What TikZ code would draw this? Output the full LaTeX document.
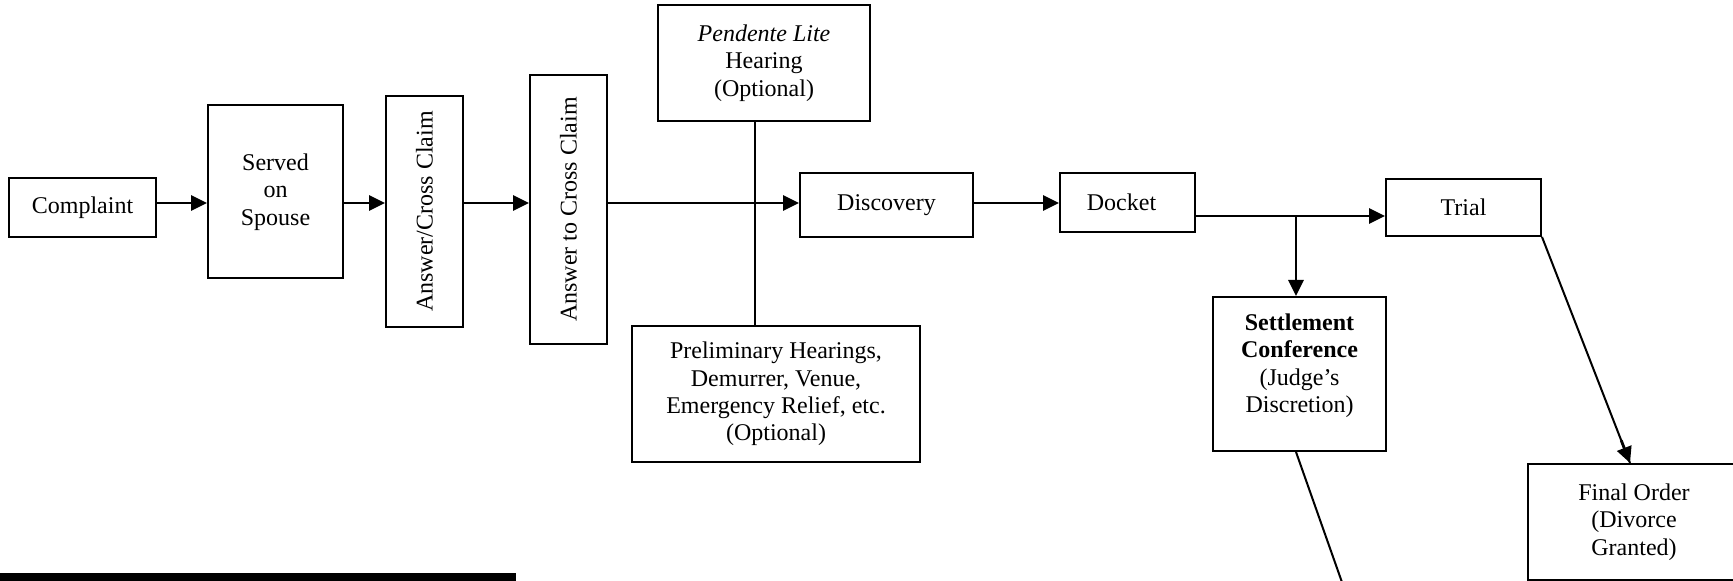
\documentclass[tikz,border=0pt]{standalone}
\usepackage{fontspec}
\setmainfont{Liberation Serif}
\usepackage{tikz}
\usetikzlibrary{arrows.meta,calc,positioning}

\begin{document}
\begin{tikzpicture}[x=0.5pt,y=-0.5pt,font=\fontsize{12}{13.7}\selectfont,
  box/.style={draw,line width=1pt,inner sep=2pt,align=center},
  arr/.style={line width=1.4pt,-{Triangle[length=8pt,width=7.5pt]}},
  link/.style={line width=1pt}]
\useasboundingbox (0,0) rectangle (1733,581);
% filing, in one row
\node[box,minimum width=73.5pt,minimum height=29.5pt] (complaint) at (82.5,207.5) {Complaint};
\node[box,minimum width=67.5pt,minimum height=86.5pt] (served) at (275.5,192) {Served\\on\\Spouse};
\node[box,rotate=90,minimum width=115.5pt,minimum height=38.5pt] (answer) at (424.5,211.5) {Answer/Cross Claim};
\node[box,rotate=90,minimum width=134.5pt,minimum height=38.5pt] (reply) at (568.5,209.5) {Answer to Cross Claim};
% optional hearings
\node[box,minimum width=106pt,minimum height=58pt] (pendente) at (764,63) {\textit{Pendente Lite}\\Hearing\\(Optional)};
\node[box,minimum width=144pt,minimum height=68pt] (prelim) at (776,394) {Preliminary Hearings,\\Demurrer, Venue,\\Emergency Relief, etc.\\(Optional)};
% towards trial
\node[box,minimum width=86.5pt,minimum height=32pt] (discovery) at (886.5,205) {Discovery};
\node[box,minimum width=67.5pt,minimum height=29.5pt] (docket) at (1127.5,202.5) {Docket\hspace*{6pt}};
\node[box,minimum width=77.5pt,minimum height=28.5pt] (trial) at (1463.5,207.5) {Trial};
\node[box,minimum width=86.5pt,minimum height=77pt] (settle) at (1299.5,374) {\textbf{Settlement}\\\textbf{Conference}\\(Judge’s\\Discretion)\\[-7pt]\strut};
\node[box,minimum width=106pt,minimum height=58pt] (final) at (1634,522) {Final Order\\(Divorce\\Granted)};

\coordinate (row) at (0,203);
\coordinate (row2) at (0,216);
\coordinate (vline) at (755,0);
\coordinate (fork) at (1296,216);
\coordinate (offpage) at (1350,605);

\draw[arr] (complaint.east |- row) -- (served.west |- row);
\draw[arr] (served.east |- row) -- (answer.north |- row);
\draw[arr] (answer.south |- row) -- (reply.north |- row);
\draw[arr] (reply.south |- row) -- (discovery.west |- row);
\draw[arr] (discovery.east |- row) -- (docket.west |- row);
\draw[link] (pendente.south -| vline) -- (prelim.north -| vline);
\draw[arr] (docket.east |- row2) -- (trial.west |- row2);
\draw[arr] (fork) -- (fork |- settle.north);
\draw[link] (trial.south east) -- ([xshift=-2pt]final.north);
\draw[arr] ($(trial.south east)!0.9!([xshift=-2pt]final.north)$) -- ([xshift=-2pt]final.north);
\draw[link] (settle.south -| fork) -- (offpage);

\fill (0,573) rectangle (516,581);
\end{tikzpicture}
\end{document}
